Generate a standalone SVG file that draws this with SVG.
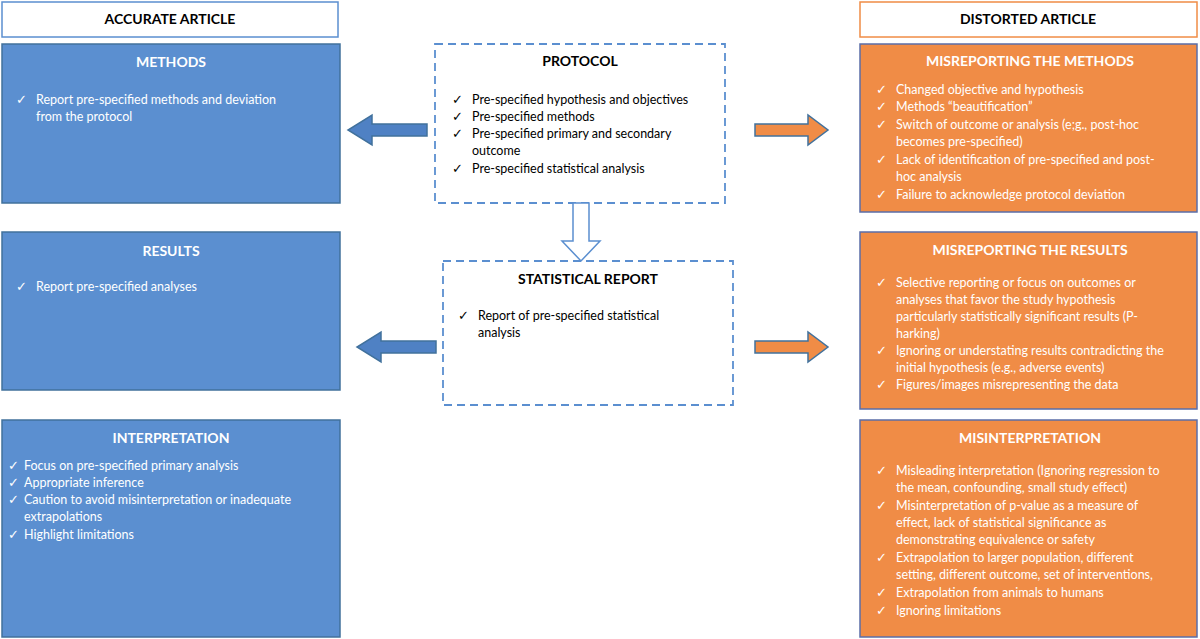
<svg xmlns="http://www.w3.org/2000/svg" width="1200" height="639" viewBox="0 0 1200 639">
<style>
text{font-family:Lato,"Open Sans","Liberation Sans",sans-serif;font-size:12.5px}
.hd{font-weight:bold;font-size:14px;text-anchor:middle}
.bl{fill:#5b8fd0;stroke:#41719c;stroke-width:1.5}
.or{fill:#f08c46;stroke:#5b6ea8;stroke-width:1.5}
.w{fill:#fff}
.k{fill:#000}
.dash{fill:#fff;stroke:#5b8fd0;stroke-width:1.8;stroke-dasharray:8 5}
</style>
<rect width="1200" height="639" fill="#fff"/>
<g id="accurate-header"><rect x="2" y="2" width="336" height="35" fill="#fff" stroke="#5b8fd0" stroke-width="1.5"/><text x="170" y="24" class="hd k">ACCURATE ARTICLE</text></g>
<g id="distorted-header"><rect x="860" y="2" width="337" height="35" fill="#fff" stroke="#f08c46" stroke-width="1.5"/><text x="1028" y="24" class="hd k">DISTORTED ARTICLE</text></g>
<g id="methods"><rect x="2" y="44" width="338" height="159" class="bl"/><text x="171" y="67" class="hd w">METHODS</text>
<text class="w" x="16" y="104">✓</text><text class="w" x="36" y="104">Report pre-specified methods and deviation</text><text class="w" x="36" y="121">from the protocol</text></g>
<g id="results"><rect x="2" y="232" width="338" height="158" class="bl"/><text x="171" y="256" class="hd w">RESULTS</text>
<text class="w" x="16" y="291">✓</text><text class="w" x="36" y="291">Report pre-specified analyses</text></g>
<g id="interpretation"><rect x="2" y="420" width="338" height="217" class="bl"/><text x="171" y="443" class="hd w">INTERPRETATION</text>
<g class="w"><text x="8" y="470">✓</text><text x="24" y="470">Focus on pre-specified primary analysis</text>
<text x="8" y="487">✓</text><text x="24" y="487">Appropriate inference</text>
<text x="8" y="504">✓</text><text x="24" y="504">Caution to avoid misinterpretation or inadequate</text><text x="24" y="521">extrapolations</text>
<text x="8" y="539">✓</text><text x="24" y="539">Highlight limitations</text></g></g>
<g id="protocol"><rect x="435" y="44" width="290" height="159" class="dash"/><text x="580" y="66" class="hd k">PROTOCOL</text>
<g class="k"><text x="452" y="104">✓</text><text x="472" y="104">Pre-specified hypothesis and objectives</text>
<text x="452" y="121">✓</text><text x="472" y="121">Pre-specified methods</text>
<text x="452" y="138">✓</text><text x="472" y="138">Pre-specified primary and secondary</text><text x="472" y="155">outcome</text>
<text x="452" y="173">✓</text><text x="472" y="173">Pre-specified statistical analysis</text></g></g>
<g id="statistical-report"><rect x="443" y="261" width="290" height="144" class="dash"/><text x="588" y="284" class="hd k">STATISTICAL REPORT</text>
<text class="k" x="458" y="320">✓</text><text class="k" x="478" y="320">Report of pre-specified statistical</text><text class="k" x="478" y="337">analysis</text></g>
<g id="misreporting-methods"><rect x="860" y="44" width="337" height="168" class="or"/><text x="1030" y="66" class="hd w">MISREPORTING THE METHODS</text>
<g class="w"><text x="876" y="94">✓</text><text x="896" y="94">Changed objective and hypothesis</text>
<text x="876" y="111">✓</text><text x="896" y="111">Methods “beautification”</text>
<text x="876" y="129">✓</text><text x="896" y="129">Switch of outcome or analysis (e;g., post-hoc</text><text x="896" y="146">becomes pre-specified)</text>
<text x="876" y="164">✓</text><text x="896" y="164">Lack of identification of pre-specified and post-</text><text x="896" y="181">hoc analysis</text>
<text x="876" y="199">✓</text><text x="896" y="199">Failure to acknowledge protocol deviation</text></g></g>
<g id="misreporting-results"><rect x="860" y="232" width="337" height="177" class="or"/><text x="1030" y="255" class="hd w">MISREPORTING THE RESULTS</text>
<g class="w"><text x="876" y="287">✓</text><text x="896" y="287">Selective reporting or focus on outcomes or</text><text x="896" y="304">analyses that favor the study hypothesis</text><text x="896" y="321">particularly statistically significant results (P-</text><text x="896" y="338">harking)</text>
<text x="876" y="355">✓</text><text x="896" y="355">Ignoring or understating results contradicting the</text><text x="896" y="372">initial hypothesis (e.g., adverse events)</text>
<text x="876" y="389">✓</text><text x="896" y="389">Figures/images misrepresenting the data</text></g></g>
<g id="misinterpretation"><rect x="860" y="420" width="337" height="217" class="or"/><text x="1030" y="443" class="hd w">MISINTERPRETATION</text>
<g class="w"><text x="876" y="475">✓</text><text x="896" y="475">Misleading interpretation (Ignoring regression to</text><text x="896" y="492">the mean, confounding, small study effect)</text>
<text x="876" y="510">✓</text><text x="896" y="510">Misinterpretation of p-value as a measure of</text><text x="896" y="527">effect, lack of statistical significance as</text><text x="896" y="544">demonstrating equivalence or safety</text>
<text x="876" y="562">✓</text><text x="896" y="562">Extrapolation to larger population, different</text><text x="896" y="579">setting, different outcome, set of interventions,</text>
<text x="876" y="597">✓</text><text x="896" y="597">Extrapolation from animals to humans</text>
<text x="876" y="615">✓</text><text x="896" y="615">Ignoring limitations</text></g></g>
<g id="connectors" stroke-width="1.5">
<polygon points="427,124 372,124 372,115 348,130 372,145 372,136 427,136" fill="#4f81c4" stroke="#41719c"/>
<polygon points="436,341 381,341 381,332 357,347 381,362 381,353 436,353" fill="#4f81c4" stroke="#41719c"/>
<polygon points="755,124 808,124 808,115 828,130 808,145 808,136 755,136" fill="#f08c46" stroke="#41719c"/>
<polygon points="755,341 808,341 808,332 828,347 808,362 808,353 755,353" fill="#f08c46" stroke="#41719c"/>
<polygon points="573,203 589,203 589,241 600,241 581,261 562,241 573,241" fill="#fff" stroke="#5b8fd0"/>
</g>
</svg>
